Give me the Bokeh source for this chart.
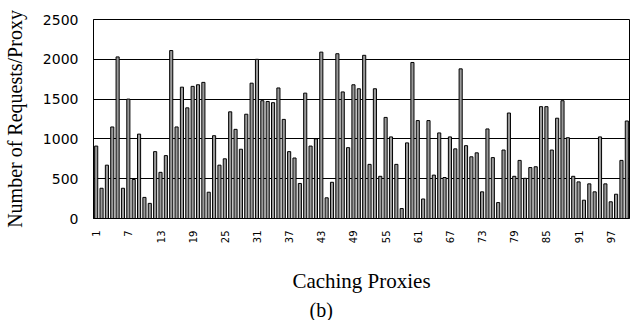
from bokeh.plotting import figure
from bokeh.models import FixedTicker, Range1d, Title, ColumnDataSource
from bokeh.embed import file_html
from bokeh.resources import INLINE
import math

proxies = list(range(1, 101))
requests = [
    910, 380, 670, 1150, 2030, 380, 1500, 490, 1060, 265,
    190, 840, 580, 790, 2110, 1150, 1650, 1390, 1660, 1680,
    1710, 330, 1040, 670, 750, 1340, 1120, 870, 1310, 1700,
    2000, 1480, 1470, 1455, 1640, 1245, 840, 760, 440, 1575,
    910, 1000, 2090, 260, 455, 2070, 1590, 890, 1680, 1630,
    2050, 680, 1630, 530, 1270, 1025, 680, 125, 950, 1960,
    1230, 245, 1230, 545, 1075, 515, 1025, 875, 1880, 915,
    775, 825, 335, 1125, 765, 200, 860, 1325, 530, 730,
    505, 640, 650, 1405, 1405, 860, 1260, 1480, 1015, 530,
    460, 230, 435, 335, 1025, 435, 210, 305, 730, 1225,
]
x_ticks = list(range(1, 101, 6))
y_ticks = [0, 500, 1000, 1500, 2000, 2500]

src = ColumnDataSource(dict(x=proxies, y=requests))

p = figure(width=636, height=320, output_backend="svg", toolbar_location=None,
           x_range=Range1d(0.5, 100.5), y_range=Range1d(0, 2500),
           min_border_left=90, min_border_right=7, min_border_top=19,
           min_border_bottom=102)

p.vbar(x="x", top="y", width=0.58, source=src, fill_color="#9a9a9a",
       line_color="black", line_width=1)

p.outline_line_color = "black"
p.outline_line_width = 1
p.background_fill_color = "white"
p.border_fill_color = "white"

p.xgrid.grid_line_color = None
p.ygrid.grid_line_color = "black"
p.ygrid.grid_line_width = 1
p.ygrid.ticker = FixedTicker(ticks=y_ticks)

p.xaxis.ticker = FixedTicker(ticks=x_ticks)
p.xaxis.major_label_orientation = math.pi / 2
p.xaxis.major_label_text_font = "DejaVu Sans"
p.xaxis.major_label_text_font_size = "10px"
p.xaxis.major_label_text_color = "black"
p.xaxis.major_label_standoff = 12
p.xaxis.major_tick_out = 0
p.xaxis.major_tick_in = 0
p.xaxis.minor_tick_out = 0
p.xaxis.minor_tick_in = 0
p.xaxis.major_tick_line_color = None
p.xaxis.minor_tick_line_color = None
p.xaxis.axis_line_color = "black"
p.xaxis.axis_label = "Caching Proxies"
p.xaxis.axis_label_text_font = "Liberation Serif"
p.xaxis.axis_label_text_font_size = "21px"
p.xaxis.axis_label_text_font_style = "normal"
p.xaxis.axis_label_text_color = "black"
p.xaxis.axis_label_standoff = 23

p.yaxis.ticker = FixedTicker(ticks=y_ticks)
p.yaxis.major_label_text_font = "DejaVu Sans"
p.yaxis.major_label_text_font_size = "14px"
p.yaxis.major_label_text_color = "black"
p.yaxis.major_label_standoff = 15
p.yaxis.major_tick_out = 0
p.yaxis.major_tick_in = 0
p.yaxis.minor_tick_out = 0
p.yaxis.minor_tick_in = 0
p.yaxis.major_tick_line_color = None
p.yaxis.minor_tick_line_color = None
p.yaxis.axis_line_color = "black"
p.yaxis.axis_label = "Number of Requests/Proxy"
p.yaxis.axis_label_text_font = "Liberation Serif"
p.yaxis.axis_label_text_font_size = "20px"
p.yaxis.axis_label_text_font_style = "normal"
p.yaxis.axis_label_text_color = "black"
p.yaxis.axis_label_standoff = 14

p.add_layout(Title(text="(b)", align="left", offset=216, standoff=0,
                   text_font="Liberation Serif", text_font_size="20px",
                   text_font_style="normal", text_color="black"), "below")

open("out.html", "w").write(file_html(p, INLINE))
